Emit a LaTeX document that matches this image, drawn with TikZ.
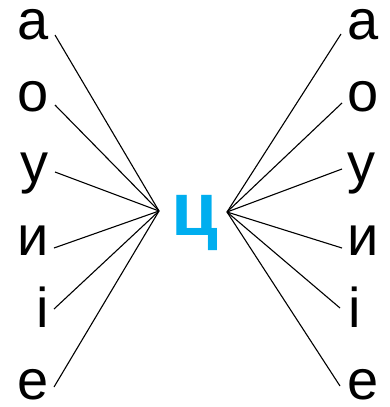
\documentclass[tikz,border=0pt]{standalone}
\usepackage{fontspec}
\setmainfont{Liberation Sans}
\usepackage{xcolor}
\definecolor{cblue}{HTML}{00AEEF}
\usetikzlibrary{positioning}

\begin{document}
\begin{tikzpicture}[x=1pt, y=-1pt,
  lft/.style={anchor=base east, inner sep=0pt, text height=31pt, text depth=0pt,
              font=\fontsize{56}{58}\selectfont},
  rgt/.style={anchor=base west, inner sep=0pt, text height=31pt, text depth=0pt,
              font=\fontsize{56}{58}\selectfont},
  hub/.style={anchor=base, inner sep=0pt, text=cblue,
              font=\fontsize{76}{78}\selectfont\bfseries},
  ln/.style={line width=1.1pt, black}
]
\useasboundingbox (0,0) rectangle (389,407);

% centre letter
\node[hub] (c) at (195,235) {ц};
\coordinate (hubL) at (159,211);
\coordinate (hubR) at (227,212);

% left column
\node[lft] (la) at (49,39)  {а};
\node[lft] (lo) at (49,111) {о};
\node[lft] (lu) at (49,182) {у};
\node[lft] (ly) at (49,255) {и};
\node[lft] (li) at (49,327) {і};
\node[lft] (le) at (49,399) {е};

% right column
\node[rgt] (ra) at (347,39)  {а};
\node[rgt] (ro) at (347,111) {о};
\node[rgt] (ru) at (347,182) {у};
\node[rgt] (ry) at (347,255) {и};
\node[rgt] (ri) at (348,327) {і};
\node[rgt] (re) at (347,399) {е};

% line ends next to the letters
\coordinate (la-e) at (55,35);
\coordinate (lo-e) at (55,105);
\coordinate (lu-e) at (55,172);
\coordinate (ly-e) at (54,248);
\coordinate (li-e) at (54,309);
\coordinate (le-e) at (54,387);
\coordinate (ra-e) at (341,34);
\coordinate (ro-e) at (342,103);
\coordinate (ru-e) at (342,169);
\coordinate (ry-e) at (342,248);
\coordinate (ri-e) at (340,308);
\coordinate (re-e) at (340,386);

\draw[ln] (la-e) -- (hubL);
\draw[ln] (lo-e) -- (hubL);
\draw[ln] (lu-e) -- (hubL);
\draw[ln] (ly-e) -- (hubL);
\draw[ln] (li-e) -- (hubL);
\draw[ln] (le-e) -- (hubL);

\draw[ln] (hubR) -- (ra-e);
\draw[ln] (hubR) -- (ro-e);
\draw[ln] (hubR) -- (ru-e);
\draw[ln] (hubR) -- (ry-e);
\draw[ln] (hubR) -- (ri-e);
\draw[ln] (hubR) -- (re-e);

\end{tikzpicture}
\end{document}
